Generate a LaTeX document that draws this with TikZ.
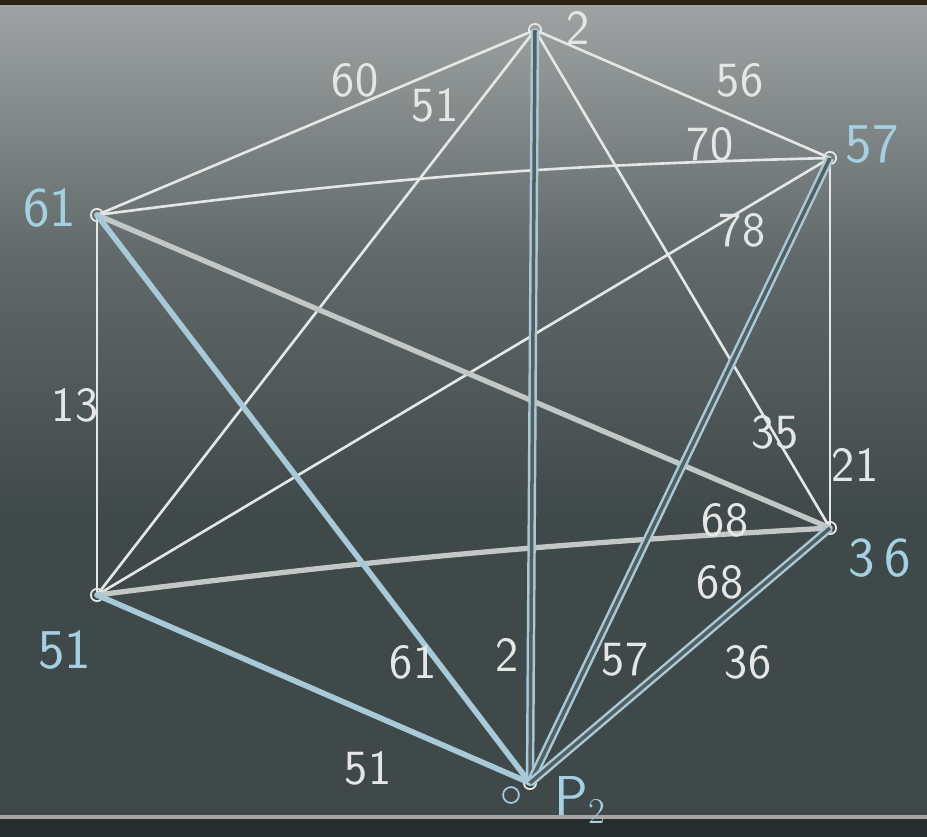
\documentclass[tikz,border=0pt]{standalone}
\definecolor{boardhi}{RGB}{160,164,164}
\definecolor{boardmid}{RGB}{96,104,105}
\definecolor{boardlo}{RGB}{64,73,74}
\definecolor{chalkw}{RGB}{228,231,229}
\definecolor{chalkb}{RGB}{168,202,216}
\definecolor{chalkl}{RGB}{165,208,226}
\begin{document}
\begin{tikzpicture}[x=0.02cm,y=-0.02cm,
    chalk/.style={draw=chalkw,line width=1.5pt,line cap=round},
    fat/.style={draw=chalkw!80!boardlo,line width=3pt,line cap=round},
    bluefat/.style={draw=chalkb,line width=3.2pt,line cap=round},
    bluedbl/.style={draw=chalkb,double=boardmid!70!boardlo,double distance=2pt,line width=1.4pt},
    vtx/.style={circle,draw=chalkw,line width=1pt,inner sep=0pt,minimum size=7pt},
    wlab/.style={text=chalkw,font=\sffamily\fontsize{28}{28}\selectfont},
    blab/.style={text=chalkl,font=\sffamily\fontsize{32}{32}\selectfont}]
    % board
    \useasboundingbox (0,0) rectangle (927,837);
    \fill[boardlo] (0,0) rectangle (927,837);
    \shade[top color=boardhi,bottom color=boardmid] (0,0) rectangle (927,260);
    \shade[top color=boardmid,bottom color=boardlo] (0,260) rectangle (927,520);
    \fill[black!75!brown] (0,0) rectangle (927,5);
    \fill[boardlo!60!black] (0,818) rectangle (927,837);
    \draw[gray!70,line width=2pt] (0,817) -- (927,817);

    % vertices
    \node[vtx] (v2)  at (535,30)  {};
    \node[vtx] (v57) at (830,158) {};
    \node[vtx] (v61) at (97,215)  {};
    \node[vtx] (v51) at (97,595)  {};
    \node[vtx] (v36) at (830,528) {};
    \node[vtx] (vP)  at (530,783) {};
    \node[circle,draw=chalkb,line width=1pt,minimum size=9pt,inner sep=0pt] (oP) at (511,795) {};

    % edges
    \draw[chalk] (v2.center) -- (v61.center);
    \draw[chalk] (v2.center) -- (v51.center);
    \draw[chalk] (v2.center) -- (v57.center);
    \draw[chalk] (v61.center) to[bend left=3] (v57.center);
    \draw[chalk] (v51.center) -- (v57.center);
    \draw[chalk] (v61.center) -- (v51.center);
    \draw[chalk] (v57.center) -- (v36.center);
    \draw[chalk] (v2.center) -- (v36.center);
    \draw[fat] (v61.center) -- (v36.center);
    \draw[fat] (v51.center) to[bend left=2] (v36.center);
    \draw[bluefat] (v61.center) -- (vP.center);
    \draw[bluefat] (v51.center) -- (vP.center);
    \draw[bluedbl] (v2.center) -- (vP.center);
    \draw[bluedbl] (v57.center) -- (vP.center);
    \draw[bluedbl] (v36.center) -- (vP.center);

    % vertex labels
    \node[wlab] (n2)  at (578,28)  {2};
    \node[blab] (n57) at (872,145) {57};
    \node[blab] (n61) at (50,208)  {61};
    \node[blab] (n51) at (65,650)  {51};
    \node[blab] (n36) at (880,558) {3\,6};
    \node[blab] (nP)  at (580,800) {P$_2$};

    % weights
    \node[wlab] (w60)  at (355,80)  {60};
    \node[wlab] (w51a) at (435,105) {51};
    \node[wlab] (w56)  at (740,80)  {56};
    \node[wlab] (w70)  at (710,144) {70};
    \node[wlab] (w78)  at (742,230) {78};
    \node[wlab] (w13)  at (75,405)  {13};
    \node[wlab] (w35)  at (775,432) {35};
    \node[wlab] (w21)  at (855,465) {21};
    \node[wlab] (w68a) at (725,520) {68};
    \node[wlab] (w68b) at (720,582) {68};
    \node[wlab] (w61)  at (413,662) {61};
    \node[wlab] (w2)   at (507,655) {2};
    \node[wlab] (w57)  at (625,660) {57};
    \node[wlab] (w36)  at (748,662) {36};
    \node[wlab] (w51b) at (368,768) {51};
\end{tikzpicture}
\end{document}
